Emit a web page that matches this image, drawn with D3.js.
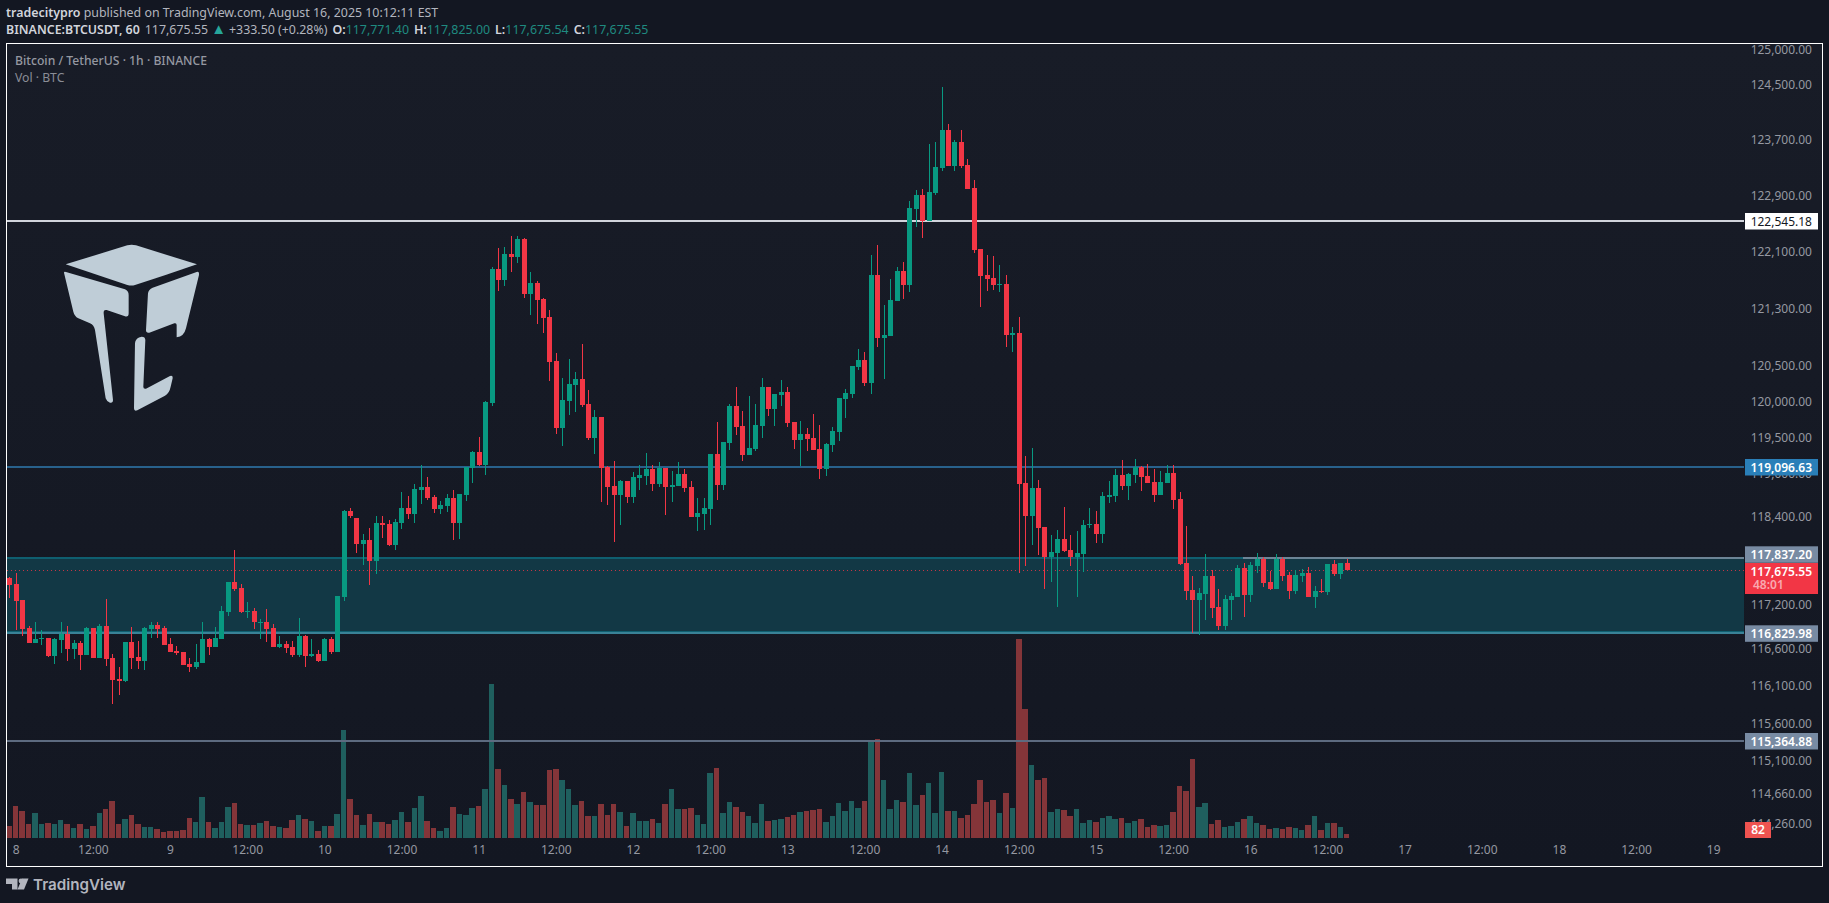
<!DOCTYPE html>
<meta charset="utf-8">
<style>
  html, body { margin: 0; padding: 0; background: #131722; overflow: hidden; }
  text { font-family: "Noto Sans", sans-serif; }
</style>
<script src="https://d3js.org/d3.v7.min.js"></script>
<div id="chart"></div>
<script>

// hourly candles, first one is Aug 7 23:00, hour 0 is Aug 8 00:00
var firstHour = -1;

var opens = [117564,
  117482,117262,116891,116685,116740,116753,116506,116726,116808,116602,
  116685,116520,116891,116479,116918,116479,116190,116163,116699,116492,
  116437,116877,116932,116891,116671,116575,116561,116396,116355,116410,
  116740,116630,116740,117097,117509,117427,117102,117111,116964,116973,
  116891,116630,116671,116630,116520,116781,116506,116534,116437,116740,
  116561,117303,118490,118384,118029,118083,117797,118315,118302,118015,
  118314,118520,118438,118767,118809,118671,118506,118548,118658,118314,
  118699,119070,119293,119111,119976,121859,121706,122069,122027,122278,
  121511,121664,121441,121176,120562,119627,120004,120227,120311,119962,
  119488,119781,119083,118822,118699,118891,118671,118932,118960,119056,
  118850,119070,118809,118822,118987,118809,118396,118438,118506,119265,
  118836,119418,119934,119655,119251,119334,119655,120199,119892,120088,
  120130,119711,119461,119545,119489,119335,119056,119391,119573,120036,
  120106,120484,120582,120260,121774,120891,120919,121409,121830,121634,
  122717,122903,122545,122932,123289,123847,123318,123661,123332,123003,
  122138,121774,121732,121634,121648,120933,120961,118864,118411,118795,
  118260,117849,117904,118096,117945,117849,117890,118288,118302,118164,
  118672,118685,118973,118823,118973,119083,118960,118877,118699,118864,
  119001,118644,117767,117397,117260,117342,117589,117164,116917,117260,
  117301,117698,117328,117726,117822,117506,117410,117822,117602,117383,
  117589,117630,117301,117383,117369,117753,117616,117771];

var highs = [117573,
  117633,117262,116918,116973,116863,116753,116753,116973,116918,116726,
  116712,116905,116891,116946,117276,116534,116355,116699,116905,116712,
  116905,116973,116973,116918,116753,116644,116561,116479,116671,116973,
  116753,116905,117179,117509,117949,117482,117234,117152,117001,117138,
  116946,116781,116712,116712,117015,116794,116740,116589,116753,116767,
  117317,118500,118520,118384,118165,118247,118420,118420,118360,118380,
  118740,118685,118850,119111,118946,118699,118616,118712,118767,118712,
  119083,119307,119502,120004,121887,122152,122166,122320,122320,122292,
  121818,121692,121455,121274,120674,120325,120590,120409,120799,120158,
  119879,119781,119097,119167,118905,118891,119015,119111,119279,119111,
  119153,119070,119029,119153,119056,118891,118658,118658,119265,119711,
  119432,119962,120199,119865,120074,119962,120325,120199,120102,120297,
  120199,119711,119727,119629,119825,119671,119419,119643,120050,120176,
  120498,120737,120694,122054,122194,121353,121718,121886,121956,122831,
  122974,122989,123633,123661,124463,123933,123690,123847,123418,123118,
  122138,122054,122040,121914,121774,121045,121185,119248,119357,118905,
  118260,118151,118219,118535,118151,118206,118356,118521,118480,118740,
  118891,119069,119193,119001,119206,119097,119138,119056,119028,119124,
  119124,118740,118274,117589,117424,117890,117671,117410,117328,117356,
  117739,117767,117781,117904,117849,117657,117890,117849,117643,117671,
  117685,117712,117452,117547,117753,117808,117767,117825];

var lows = [117289,
  116863,116781,116685,116685,116657,116492,116396,116547,116437,116465,
  116314,116520,116479,116479,116369,115860,115984,116149,116328,116328,
  116314,116753,116753,116657,116561,116520,116383,116286,116328,116410,
  116520,116630,116740,117042,117386,117083,117015,116877,116740,116699,
  116630,116616,116547,116492,116492,116355,116492,116424,116437,116534,
  116561,117248,118390,117906,117742,117469,117619,118111,118001,117947,
  118232,118369,118314,118575,118630,118451,118438,118465,118080,118094,
  118616,118864,119097,118974,119934,121553,121622,121818,121943,121455,
  121204,121078,120953,120283,119544,119376,119809,119851,119920,119460,
  119265,118603,118561,118053,118287,118589,118589,118767,118836,118754,
  118809,118424,118603,118822,118740,118396,118204,118218,118287,118630,
  118767,119321,119530,119167,119251,119307,119488,119795,119655,119934,
  119641,119334,119097,119307,119321,118918,118959,119293,119447,119769,
  120050,120442,120218,120106,120765,120316,120919,121409,121437,121535,
  122461,122292,122545,122903,123246,123318,123246,123289,122989,122082,
  121325,121549,121563,121535,120765,120694,117630,117726,118014,117877,
  117410,117506,117177,117918,117726,117301,117643,118247,118041,118041,
  118589,118603,118768,118631,118864,118754,118864,118603,118699,118864,
  118507,117739,117260,116821,116793,116999,117027,116862,116862,116999,
  117301,117040,117232,117630,117438,117397,117410,117520,117273,117342,
  117506,117301,117150,117356,117328,117589,117547,117675];

var closes = [117468,
  117248,116877,116685,116740,116749,116506,116740,116808,116602,116685,
  116520,116891,116479,116918,116465,116176,116163,116699,116479,116437,
  116891,116932,116877,116657,116561,116547,116383,116355,116424,116740,
  116630,116753,117111,117509,117413,117097,117111,116960,116973,116877,
  116630,116671,116616,116520,116781,116506,116534,116437,116740,116561,
  117317,118490,118410,118029,118083,117797,118315,118288,118015,118329,
  118520,118438,118781,118809,118658,118506,118561,118658,118314,118712,
  119083,119293,119111,119990,121859,121706,122069,122027,122278,121511,
  121664,121427,121162,120548,119627,120018,120241,120311,119948,119488,
  119781,119070,118809,118699,118891,118671,118946,118974,119056,118850,
  119070,118809,118836,118987,118795,118396,118451,118520,119265,118836,
  119432,119934,119641,119251,119348,119669,120199,119892,120102,120130,
  119697,119460,119545,119475,119321,119056,119405,119587,120050,120120,
  120498,120582,120260,121774,120891,120933,121423,121830,121634,122731,
  122903,122545,122946,123304,123847,123318,123661,123318,122989,122124,
  121760,121718,121634,121648,120933,120961,118850,118411,118795,118247,
  117849,117918,118096,117931,117849,117904,118288,118302,118164,118685,
  118699,118973,118823,118987,119083,118946,118864,118699,118877,119001,
  118631,117753,117383,117260,117356,117589,117150,116917,117273,117314,
  117698,117328,117739,117822,117493,117410,117822,117589,117383,117602,
  117630,117301,117383,117369,117753,117616,117767,117675];

var volumes = [246,
  656,553,287,512,287,307,287,369,287,205,
  287,184,246,512,594,758,287,389,471,287,
  225,225,184,123,143,143,164,410,328,840,
  328,205,328,635,717,287,266,266,307,348,
  246,225,205,369,471,389,348,143,246,246,
  492,2213,799,471,266,492,328,328,287,369,
  533,328,615,861,348,205,143,205,635,492,
  471,615,656,1004,3155,1414,1086,799,697,943,
  738,676,676,1393,1414,1188,1004,676,758,451,
  451,697,471,697,533,246,512,348,348,389,
  307,697,1004,594,594,615,471,287,1332,1434,
  512,738,635,533,451,307,697,348,369,389,
  430,471,533,553,574,594,328,451,717,553,
  758,615,758,2008,2028,1188,594,779,738,1332,
  676,881,1127,512,1352,553,553,410,471,697,
  1188,738,779,512,922,615,4078,2643,1496,1188,
  1229,533,594,574,451,594,307,369,328,410,
  451,389,410,307,348,389,225,266,246,266,
  533,1065,963,1619,635,717,287,369,225,246,
  328,389,451,307,266,184,205,184,225,205,
  164,266,451,164,307,307,225,82];

// price axis
var priceTicks = [125000,124500,123700,122900,122100,121300,120500,120000,119500,119000,
                  118400,117200,116600,116100,115600,115100,114660,114260];

// time axis: hours since Aug 8 00:00
var timeTicks = d3.range(0, 265, 12);
var timeLabels = ["8","12:00","9","12:00","10","12:00","11","12:00","12","12:00","13","12:00",
                  "14","12:00","15","12:00","16","12:00","17","12:00","18","12:00","19"];

// horizontal levels
var levelWhite = 122545.18;
var levelBlue = 119096.63;
var zoneTop = 117837.20;
var zoneBottom = 116829.98;
var levelGray = 115364.88;
var lastPrice = 117675.55;
var lastVolume = 82;

var width = 1829, height = 903;
var paneLeft = 7, paneRight = 1822.5, paneTop = 44, paneBottom = 866, lineEnd = 1744;

var x = d3.scaleLinear().domain([0, 264]).range([15.7, 1713.2]);
var y = d3.scaleLog().domain([125000, 114260]).range([49.7, 823.7]);
var yVol = d3.scaleLinear().domain([0, 4078]).range([838, 639]);

var green = "#089981", red = "#f23645";
var fmt = d3.format(",.2f");

var svg = d3.select("#chart").append("svg")
    .attr("width", width)
    .attr("height", height)
    .style("display", "block");

var grad = svg.append("defs").append("linearGradient")
    .attr("id", "paneBg").attr("x1", 0).attr("x2", 0).attr("y1", 0).attr("y2", 1);
grad.append("stop").attr("offset", "0%").attr("stop-color", "#181c27");
grad.append("stop").attr("offset", "100%").attr("stop-color", "#131722");

svg.append("rect")
    .attr("x", paneLeft).attr("y", paneTop)
    .attr("width", paneRight - paneLeft).attr("height", paneBottom - paneTop)
    .attr("fill", "url(#paneBg)");

// logo
var logo = svg.append("g")
    .attr("transform", "translate(40,230) scale(0.3333)")
    .attr("fill", "#bfcdd7");
logo.append("path").attr("d", "M77,103 L262,46 Q275,42 288,46 L471,103 Q380,135 285,165 Q275,168 262,165 Z");
logo.append("path").attr("d", "M72,128 Q72,124 78,126 L255,178 Q266,183 266,195 L266,250 Q266,262 255,259 L200,240 Q190,238 191,250 L219,510 Q219,520 210,518 Q200,515 197,505 L165,300 Q162,285 150,280 L115,265 Q103,258 100,245 Z");
logo.append("path").attr("d", "M477,130 L477,135 L438,295 Q432,320 410,322 L410,285 Q410,278 403,280 L328,308 Q318,310 318,300 L324,190 Q326,178 338,173 L470,126 Q477,124 477,130 Z");
logo.append("path").attr("d", "M285,340 Q287,322 305,320 Q316,320 316,330 L310,470 Q310,478 318,476 L390,438 Q400,435 398,445 L392,470 Q388,490 375,497 L292,541 Q282,545 282,535 Z");

// zone
svg.append("rect")
    .attr("x", paneLeft).attr("y", y(zoneTop))
    .attr("width", lineEnd - paneLeft).attr("height", y(zoneBottom) - y(zoneTop))
    .attr("fill", "#123845");

// volume bars
var hours = opens.map(function(d, i) { return firstHour + i; });

svg.append("g").selectAll("rect")
    .data(hours)
  .enter().append("rect")
    .attr("x", function(d) { return x(d) - 2.75; })
    .attr("width", 5.5)
    .attr("y", function(d, i) { return yVol(volumes[i]); })
    .attr("height", function(d, i) { return yVol(0) - yVol(volumes[i]); })
    .attr("shape-rendering", "crispEdges")
    .attr("fill", function(d, i) { return closes[i] >= opens[i] ? "#1f5f5e" : "#843539"; });

// level lines
function level(price, color, x0, x1) {
  svg.append("rect")
      .attr("x", x0).attr("width", x1 - x0)
      .attr("y", Math.round(y(price)) - 1).attr("height", 2)
      .attr("fill", color);
}
level(levelWhite, "#d1d4dc", paneLeft, lineEnd);
level(levelBlue, "#28618c", paneLeft, lineEnd);
level(levelGray, "#5d6b80", paneLeft, lineEnd);
level(zoneTop, "#6c8496", paneLeft, lineEnd);
level(zoneTop, "#0f5f70", paneLeft, 1243);
svg.append("rect")
    .attr("x", paneLeft).attr("width", lineEnd - paneLeft)
    .attr("y", Math.round(y(zoneBottom))).attr("height", 2)
    .attr("fill", "#3a8297");
svg.append("rect")
    .attr("x", paneLeft).attr("width", lineEnd - paneLeft)
    .attr("y", Math.round(y(zoneBottom)) - 1).attr("height", 1)
    .attr("fill", "#0f5f70");

// last price dotted line
svg.append("line")
    .attr("x1", paneLeft).attr("x2", lineEnd)
    .attr("y1", Math.round(y(lastPrice)) + 0.5).attr("y2", Math.round(y(lastPrice)) + 0.5)
    .attr("stroke", red)
    .attr("stroke-opacity", 0.8)
    .attr("stroke-dasharray", "1,3");

// candles
var candles = svg.append("g").attr("shape-rendering", "crispEdges");

candles.selectAll("rect.wick")
    .data(hours)
  .enter().append("rect")
    .attr("class", "wick")
    .attr("x", function(d) { return Math.round(x(d)); })
    .attr("width", 1)
    .attr("y", function(d, i) { return y(highs[i]); })
    .attr("height", function(d, i) { return y(lows[i]) - y(highs[i]); })
    .attr("fill", function(d, i) { return closes[i] >= opens[i] ? green : red; });

candles.selectAll("rect.body")
    .data(hours)
  .enter().append("rect")
    .attr("class", "body")
    .attr("x", function(d) { return Math.round(x(d)) - 2; })
    .attr("width", 5)
    .attr("y", function(d, i) { return y(Math.max(opens[i], closes[i])); })
    .attr("height", function(d, i) { return Math.max(1, Math.abs(y(opens[i]) - y(closes[i]))); })
    .attr("fill", function(d, i) { return closes[i] >= opens[i] ? green : red; });

// axes
var yAxis = d3.axisLeft(y)
    .tickValues(priceTicks)
    .tickFormat(fmt)
    .tickSize(0)
    .tickPadding(0);

var gy = svg.append("g")
    .attr("transform", "translate(1812,0)")
    .call(yAxis);
gy.select(".domain").remove();
gy.selectAll("text")
    .attr("fill", "#9598a1")
    .style("font-size", "12px");

var xAxis = d3.axisBottom(x)
    .tickValues(timeTicks)
    .tickFormat(function(d, i) { return timeLabels[i]; })
    .tickSize(0)
    .tickPadding(0);

var gx = svg.append("g")
    .attr("transform", "translate(0,845)")
    .call(xAxis);
gx.select(".domain").remove();
gx.selectAll("text")
    .attr("fill", "#9598a1")
    .style("font-size", "12px");

// price labels
function priceLabel(price, top, h, bg, color) {
  svg.append("rect")
      .attr("x", 1745).attr("y", top)
      .attr("width", 73).attr("height", h)
      .attr("fill", bg);
  svg.append("text")
      .attr("x", 1812).attr("y", top + 8.3)
      .attr("dy", "0.35em")
      .attr("text-anchor", "end")
      .attr("fill", color)
      .style("font-size", "12px")
      .style("font-weight", bg == "#ffffff" ? 400 : 600)
      .text(fmt(price));
}
priceLabel(levelWhite, 213, 16.5, "#ffffff", "#131722");
priceLabel(levelBlue, 459, 16.5, "#2a7fb8", "#ffffff");
priceLabel(zoneTop, 546.3, 16.5, "#788ba3", "#ffffff");
priceLabel(lastPrice, 563, 31, red, "#ffffff");
svg.append("text")
    .attr("x", 1753).attr("y", 585)
    .attr("dy", "0.35em")
    .attr("fill", "#f9a9b0")
    .style("font-size", "12px")
    .style("font-weight", 600)
    .text("48:01");
priceLabel(zoneBottom, 625.3, 16.5, "#788ba3", "#ffffff");
priceLabel(levelGray, 733, 16.5, "#788ba3", "#ffffff");

svg.append("rect")
    .attr("x", 1745).attr("y", 822)
    .attr("width", 26).attr("height", 16)
    .attr("fill", "#ef5350");
svg.append("text")
    .attr("x", 1758).attr("y", 830)
    .attr("dy", "0.35em")
    .attr("text-anchor", "middle")
    .attr("fill", "#ffffff")
    .style("font-size", "12px")
    .style("font-weight", 600)
    .text(lastVolume);

// pane border
svg.append("rect")
    .attr("x", 6.5).attr("y", 43.5)
    .attr("width", 1816).attr("height", 823)
    .attr("fill", "none")
    .attr("stroke", "#ffffff");

// header lines
var line1 = svg.append("text")
    .attr("x", 6).attr("y", 17)
    .attr("fill", "#b2b5be")
    .style("font-size", "12.4px");
line1.append("tspan").attr("font-weight", 600).attr("fill", "#d1d4dc").text("tradecitypro");
line1.append("tspan").text(" published on TradingView.com, August 16, 2025 10:12:11 EST");

var line2 = svg.append("text")
    .attr("x", 6).attr("y", 34)
    .attr("fill", "#b2b5be")
    .style("font-size", "12.4px");
line2.append("tspan").attr("font-weight", 600).attr("fill", "#d1d4dc").text("BINANCE:BTCUSDT, 60");
line2.append("tspan").attr("dx", 5).text("117,675.55");
line2.append("tspan").attr("dx", 3).attr("fill", "#26a69a").style("font-size", "15px").text("\u25B2");
line2.append("tspan").attr("dx", 3).text("+333.50 (+0.28%)");
[["O:", "117,771.40"], ["H:", "117,825.00"], ["L:", "117,675.54"], ["C:", "117,675.55"]].forEach(function(d) {
  line2.append("tspan").attr("dx", 5).attr("font-weight", 600).attr("fill", "#d1d4dc").text(d[0]);
  line2.append("tspan").attr("fill", "#1f8a80").text(d[1]);
});

// legend
svg.append("text")
    .attr("x", 15).attr("y", 65)
    .attr("fill", "#9598a1")
    .style("font-size", "12.2px")
    .style("font-weight", 500)
    .text("Bitcoin / TetherUS \u00B7 1h \u00B7 BINANCE");
svg.append("text")
    .attr("x", 15).attr("y", 82)
    .attr("fill", "#8a8d96")
    .style("font-size", "12.2px")
    .text("Vol \u00B7 BTC");

// TradingView footer mark
var tv = svg.append("g").attr("fill", "#b2b5be");
tv.append("path").attr("d", "M6,878.5 H17.5 V889.5 H12 V884 H6 Z");
tv.append("circle").attr("cx", 21).attr("cy", 881).attr("r", 2.4);
tv.append("path").attr("d", "M28.5,878.5 L24,889.5 H17.5 L22,878.5 Z");
svg.append("text")
    .attr("x", 33).attr("y", 890)
    .attr("fill", "#b2b5be")
    .style("font-family", "Inter, sans-serif")
    .style("font-size", "15.2px")
    .style("font-weight", 600)
    .text("TradingView");

</script>
